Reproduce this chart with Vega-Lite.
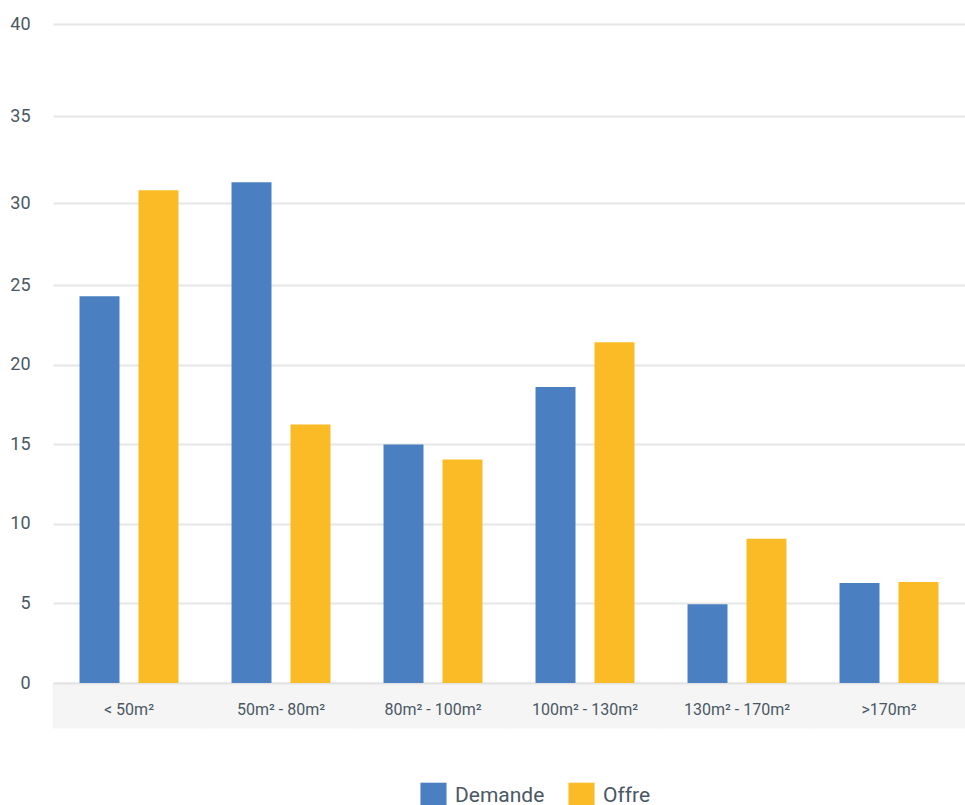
{
  "$schema": "https://vega.github.io/schema/vega-lite/v6.json",
  "autosize": "none",
  "padding": {"left": 53, "top": 24, "right": 0, "bottom": 122},
  "width": 912,
  "height": 659,
  "background": "white",
  "config": {
    "view": {"stroke": null},
    "font": "Roboto",
    "axis": {"labelFont": "Roboto", "labelColor": "#4a5864"}
  },
  "data": {
    "values": [
      {"surface": "< 50m²", "serie": "Demande", "valeur": 24.3},
      {"surface": "< 50m²", "serie": "Offre", "valeur": 30.73},
      {"surface": "50m² - 80m²", "serie": "Demande", "valeur": 31.19},
      {"surface": "50m² - 80m²", "serie": "Offre", "valeur": 16.24},
      {"surface": "80m² - 100m²", "serie": "Demande", "valeur": 14.98},
      {"surface": "80m² - 100m²", "serie": "Offre", "valeur": 14.04},
      {"surface": "100m² - 130m²", "serie": "Demande", "valeur": 18.6},
      {"surface": "100m² - 130m²", "serie": "Offre", "valeur": 21.4},
      {"surface": "130m² - 170m²", "serie": "Demande", "valeur": 4.95},
      {"surface": "130m² - 170m²", "serie": "Offre", "valeur": 9.06},
      {"surface": ">170m²", "serie": "Demande", "valeur": 6.28},
      {"surface": ">170m²", "serie": "Offre", "valeur": 6.35}
    ]
  },
  "mark": {"type": "bar"},
  "encoding": {
    "x": {
      "field": "surface",
      "type": "nominal",
      "sort": ["< 50m²", "50m² - 80m²", "80m² - 100m²", "100m² - 130m²", "130m² - 170m²", ">170m²"],
      "scale": {"paddingInner": 0.349, "paddingOuter": 0.1745},
      "axis": {
        "title": null,
        "labelAngle": 0,
        "labelFontSize": 16,
        "labelBaseline": "top",
        "labelPadding": -27,
        "ticks": true,
        "tickSize": 45,
        "tickWidth": 154,
        "tickColor": "#f5f5f5",
        "tickBand": "center",
        "domain": true,
        "domainColor": "#e3e3e3",
        "domainWidth": 2,
        "grid": false,
        "zindex": 0
      }
    },
    "xOffset": {
      "field": "serie",
      "type": "nominal",
      "sort": ["Demande", "Offre"],
      "scale": {"paddingInner": 0.322, "paddingOuter": 0}
    },
    "y": {
      "field": "valeur",
      "type": "quantitative",
      "scale": {"type": "linear", "domain": [0, 25, 30, 35, 40], "range": [659, 261, 179, 92, 0], "nice": false, "zero": false},
      "axis": {
        "title": null,
        "values": [0, 5, 10, 15, 20, 25, 30, 35, 40],
        "domain": false,
        "ticks": false,
        "tickSize": 0,
        "labelPadding": 23,
        "labelFontSize": 18,
        "grid": true,
        "gridColor": "#e6e6e6",
        "gridWidth": 2,
        "zindex": 0
      }
    },
    "color": {
      "field": "serie",
      "type": "nominal",
      "sort": ["Demande", "Offre"],
      "scale": {"domain": ["Demande", "Offre"], "range": ["#4a7fc1", "#fbbb26"]},
      "legend": {
        "title": null,
        "orient": "none",
        "direction": "horizontal",
        "legendX": 367,
        "legendY": 758,
        "padding": 0,
        "symbolType": "square",
        "symbolSize": 680,
        "symbolStrokeWidth": 0,
        "symbolOpacity": 1,
        "labelFont": "Roboto",
        "labelFontSize": 21,
        "labelColor": "#4a5864",
        "labelOffset": 8,
        "columnPadding": 23
      }
    }
  }
}
